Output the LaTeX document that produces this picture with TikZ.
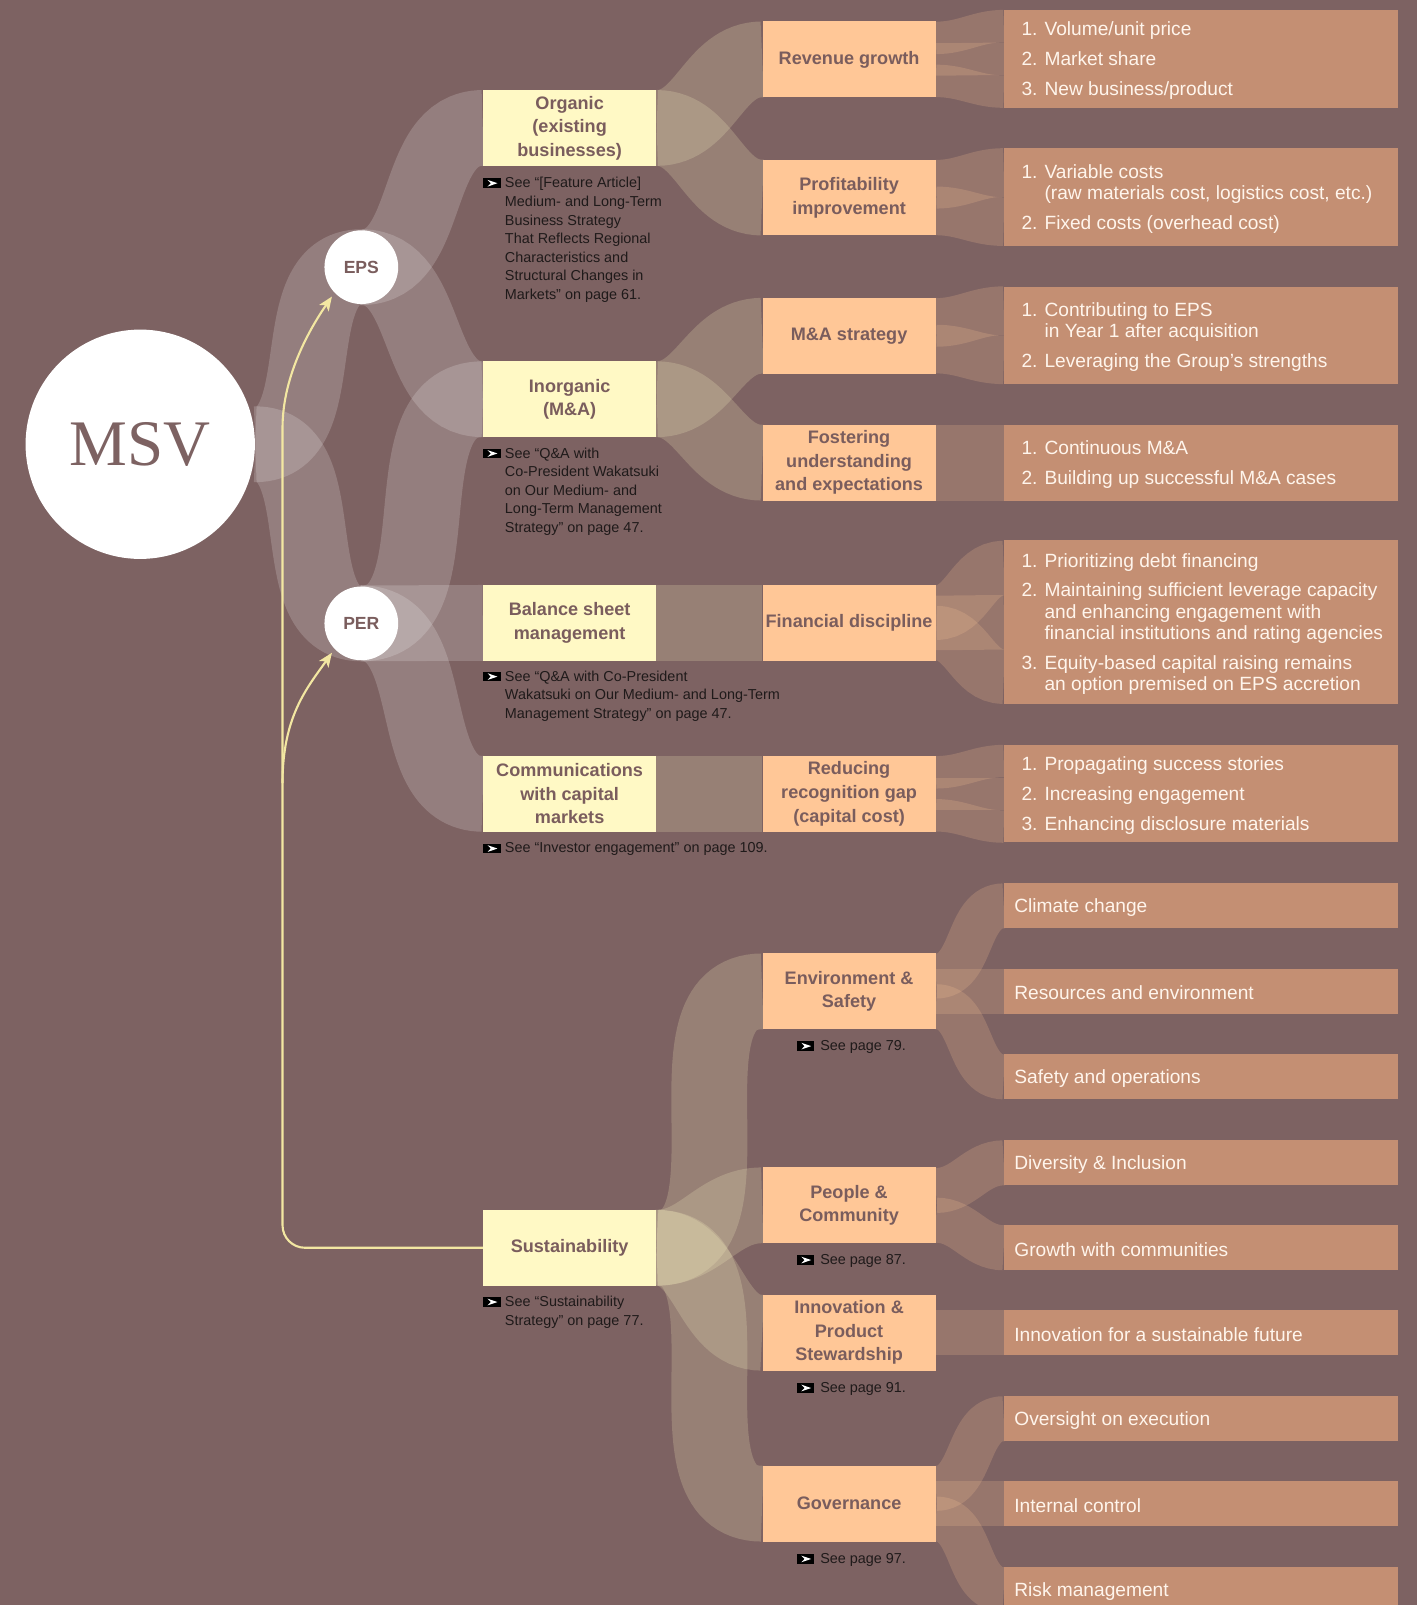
\documentclass[tikz,border=0pt]{standalone}
\usepackage{fontspec}
\setsansfont{Liberation Sans}
\newfontfamily\msvfont{Liberation Serif}
\usetikzlibrary{positioning}
\usetikzlibrary{calc}
\usetikzlibrary{arrows.meta}
\definecolor{bgmauve}{HTML}{7D6262}
\definecolor{labelmauve}{HTML}{7A5D5D}
\definecolor{boxyellow}{HTML}{FFF9C5}
\definecolor{boxpeach}{HTML}{FFC797}
\definecolor{boxtan}{HTML}{C48F73}
\definecolor{itemwhite}{HTML}{FFF5EC}
\definecolor{notedark}{HTML}{1F1A1A}
\definecolor{feedyellow}{HTML}{F3E7A2}
\newcommand{\boxfont}{\sffamily\bfseries\fontsize{10.3}{13.4}\selectfont}
\newcommand{\itemfont}{\sffamily\fontsize{10.9}{12.2}\selectfont}
\newcommand{\notefont}{\sffamily\fontsize{8.2}{10.6}\selectfont}
\pgfdeclarelayer{back}
\pgfdeclarelayer{bands}
\pgfsetlayers{back,bands,main}
\tikzset{
% Boxes of the three columns
yellow box/.style={rectangle,fill=boxyellow,minimum width=3.461cm,minimum height=1.516cm,inner sep=0,align=center,font=\boxfont,text=labelmauve},
peach box/.style={yellow box,fill=boxpeach},
item box/.style={rectangle,fill=boxtan,minimum width=7.885cm,minimum height=#1,inner sep=0},
item text/.style={inner sep=0,align=left,font=\itemfont,text=itemwhite,yshift=-1pt},
% Bands between the columns
flow/.style={draw=white,draw opacity=0.18,line width=#1},
flow/.default=1.516cm,
yflow/.style={draw=boxyellow,draw opacity=0.2,line width=#1},
yflow/.default=1.516cm,
pflow/.style={draw=boxpeach,draw opacity=0.2,line width=#1}
}

\begin{document}
\begin{tikzpicture}[x=0.02048cm,y=-0.02048cm]
		% Node styles for circles and the page notes
		\tikzstyle{msv node}=[circle,fill=white,minimum size=4.588cm,inner sep=0,text=bgmauve,font=\msvfont\fontsize{37}{40}\selectfont];
		\tikzstyle{ratio node}=[circle,fill=white,minimum size=1.475cm,inner sep=0,text=labelmauve,font=\sffamily\bfseries\fontsize{10}{12}\selectfont];
		\tikzstyle{see icon}=[rectangle,fill=black,minimum width=10pt,minimum height=5.4pt,inner sep=0,
			path picture={\fill[white] ([xshift=2.6pt,yshift=0.8pt]path picture bounding box.south west)
				-- ([xshift=-1.8pt]path picture bounding box.east)
				-- ([xshift=2.6pt,yshift=-0.8pt]path picture bounding box.north west)
				-- ([xshift=4.4pt]path picture bounding box.west) -- cycle;}];
		\tikzstyle{see text}=[inner sep=0,align=left,anchor=north west,font=\notefont,text=notedark];
		\tikzstyle{feed}=[draw=feedyellow,line width=1.2pt,-{Stealth[length=8pt,width=6.5pt,inset=2pt]}];
		\useasboundingbox (0,0) rectangle (1384,1568);
		\begin{pgfonlayer}{back}
			\fill[bgmauve] (0,0) rectangle (1384,1568);
		\end{pgfonlayer}
		% Circles
		\node[msv node] (msv) at (137,434) {MSV};
		\node[ratio node] (eps) at (353,261) {EPS};
		\node[ratio node] (per) at (353,609) {PER};
		% Yellow column
		\node[yellow box] (org) at (556.5,125) {Organic\\(existing\\businesses)};
		\node[yellow box] (inorg) at (556.5,390) {Inorganic\\(M\&A)};
		\node[yellow box] (bal) at (556.5,608.5) {Balance sheet\\management};
		\node[yellow box] (comm) at (556.5,775.5) {Communications\\with capital\\markets};
		\node[yellow box] (sust) at (556.5,1219) {Sustainability};
		% Peach column
		\node[peach box] (rev) at (829.5,58) {Revenue growth};
		\node[peach box] (prof) at (829.5,193) {Profitability\\improvement};
		\node[peach box] (ma) at (829.5,328) {M\&A strategy};
		\node[peach box] (fost) at (829.5,452) {Fostering\\understanding\\and expectations};
		\node[peach box] (fin) at (829.5,608.5) {Financial discipline};
		\node[peach box] (red) at (829.5,775.5) {Reducing\\recognition gap\\(capital cost)};
		\node[peach box] (env) at (829.5,968.5) {Environment \&\\Safety};
		\node[peach box] (ppl) at (829.5,1177.5) {People \&\\Community};
		\node[peach box] (inno) at (829.5,1302) {Innovation \&\\Product\\Stewardship};
		\node[peach box] (gov) at (829.5,1469) {Governance};
		% Item boxes
		\node[item box=1.946cm] (r1) at (1173.5,57.5) {};
		\node[item text,right=0.348cm of r1.west] (r1t) {1. Volume/unit price\\[4.7pt]2. Market share\\[4.7pt]3. New business/product};
		\node[item box=1.946cm] (r2) at (1173.5,192.5) {};
		\node[item text,right=0.348cm of r2.west] (r2t) {1. Variable costs\\\phantom{1. }(raw materials cost, logistics cost, etc.)\\[4.7pt]2. Fixed costs (overhead cost)};
		\node[item box=1.946cm] (r3) at (1173.5,327.5) {};
		\node[item text,right=0.348cm of r3.west] (r3t) {1. Contributing to EPS\\\phantom{1. }in Year 1 after acquisition\\[4.7pt]2. Leveraging the Group’s strengths};
		\node[item box=1.516cm] (r4) at (1173.5,452) {};
		\node[item text,right=0.348cm of r4.west] (r4t) {1. Continuous M\&A\\[4.7pt]2. Building up successful M\&A cases};
		\node[item box=3.277cm] (r5) at (1173.5,608) {};
		\node[item text,right=0.348cm of r5.west] (r5t) {1. Prioritizing debt financing\\[4.7pt]2. Maintaining sufficient leverage capacity\\\phantom{2. }and enhancing engagement with\\\phantom{2. }financial institutions and rating agencies\\[4.7pt]3. Equity-based capital raising remains\\\phantom{3. }an option premised on EPS accretion};
		\node[item box=1.946cm] (r6) at (1173.5,775.5) {};
		\node[item text,right=0.348cm of r6.west] (r6t) {1. Propagating success stories\\[4.7pt]2. Increasing engagement\\[4.7pt]3. Enhancing disclosure materials};
		\node[item box=0.901cm] (s1) at (1173.5,885) {};
		\node[item text,right=0.205cm of s1.west] (s1t) {Climate change};
		\node[item box=0.901cm] (s2) at (1173.5,968.5) {};
		\node[item text,right=0.205cm of s2.west] (s2t) {Resources and environment};
		\node[item box=0.901cm] (s3) at (1173.5,1052) {};
		\node[item text,right=0.205cm of s3.west] (s3t) {Safety and operations};
		\node[item box=0.901cm] (s4) at (1173.5,1136) {};
		\node[item text,right=0.205cm of s4.west] (s4t) {Diversity \& Inclusion};
		\node[item box=0.901cm] (s5) at (1173.5,1219) {};
		\node[item text,right=0.205cm of s5.west] (s5t) {Growth with communities};
		\node[item box=0.901cm] (s6) at (1173.5,1302) {};
		\node[item text,right=0.205cm of s6.west] (s6t) {Innovation for a sustainable future};
		\node[item box=0.901cm] (s7) at (1173.5,1386) {};
		\node[item text,right=0.205cm of s7.west] (s7t) {Oversight on execution};
		\node[item box=0.901cm] (s8) at (1173.5,1469) {};
		\node[item text,right=0.205cm of s8.west] (s8t) {Internal control};
		\node[item box=0.901cm] (s9) at (1173.5,1553) {};
		\node[item text,right=0.205cm of s9.west] (s9t) {Risk management};
		% Page notes
		\node[see icon] (i1) at (480.5,179) {};
		\node[see text] (n1) at (493,173) {See “[Feature Article]\\Medium- and Long-Term\\Business Strategy\\That Reflects Regional\\Characteristics and\\Structural Changes in\\Markets” on page 61.};
		\node[see icon] (i2) at (480.5,443) {};
		\node[see text] (n2) at (493,437) {See “Q\&A with\\Co-President Wakatsuki\\on Our Medium- and\\Long-Term Management\\Strategy” on page 47.};
		\node[see icon] (i3) at (480.5,661) {};
		\node[see text] (n3) at (493,655) {See “Q\&A with Co-President\\Wakatsuki on Our Medium- and Long-Term\\Management Strategy” on page 47.};
		\node[see icon] (i4) at (480.5,829) {};
		\node[see text] (n4) at (493,823) {See “Investor engagement” on page 109.};
		\node[see icon] (i5) at (480.5,1272) {};
		\node[see text] (n5) at (493,1266) {See “Sustainability\\Strategy” on page 77.};
		\node[see icon] (i6) at (787,1022) {};
		\node[see text] (n6) at (801,1016) {See page 79.};
		\node[see icon] (i7) at (787,1231) {};
		\node[see text] (n7) at (801,1225) {See page 87.};
		\node[see icon] (i8) at (787,1356) {};
		\node[see text] (n8) at (801,1350) {See page 91.};
		\node[see icon] (i9) at (787,1523) {};
		\node[see text] (n9) at (801,1517) {See page 97.};
		% Bands, behind the boxes
		\begin{pgfonlayer}{bands}
			\draw[flow] (msv.east) to[out=0,in=180] (eps.center);
			\draw[flow] (msv.east) to[out=0,in=180] (per.center);
			\draw[flow] (eps.center) to[out=0,in=180] (org.west);
			\draw[flow] (eps.center) to[out=0,in=180] (inorg.west);
			\draw[flow] (per.center) to[out=0,in=180] (inorg.west);
			\draw[flow] (per.center) -- (bal.west);
			\draw[flow] (per.center) to[out=0,in=180] (comm.west);
			\draw[yflow] (org.east) to[out=0,in=180] (rev.west);
			\draw[yflow] (org.east) to[out=0,in=180] (prof.west);
			\draw[yflow] (inorg.east) to[out=0,in=180] (ma.west);
			\draw[yflow] (inorg.east) to[out=0,in=180] (fost.west);
			\draw[yflow] (bal.east) -- (fin.west);
			\draw[yflow] (comm.east) -- (red.west);
			\foreach \t in {env,ppl,inno,gov}
				\draw[yflow] (sust.east) to[out=0,in=180] (\t.west);
			% fans into the item boxes
			\foreach \a/\b in {-21/-32,0/0,21/32}{
				\draw[pflow=0.649cm] ($(rev.east)+(0,\a)$) to[out=0,in=180] ($(r1.west)+(0,\b)$);
				\draw[pflow=0.649cm] ($(red.east)+(0,\a)$) to[out=0,in=180] ($(r6.west)+(0,\b)$);
			}
			\foreach \a/\b in {-13/-24,13/24}{
				\draw[pflow=0.973cm] ($(prof.east)+(0,\a)$) to[out=0,in=180] ($(r2.west)+(0,\b)$);
				\draw[pflow=0.973cm] ($(ma.east)+(0,\a)$) to[out=0,in=180] ($(r3.west)+(0,\b)$);
			}
			\foreach \a in {-18.5,18.5}
				\draw[pflow=0.758cm] ($(fost.east)+(0,\a)$) -- ($(r4.west)+(0,\a)$);
			\foreach \a/\b in {-10/-53,0/0,10/53}
				\draw[pflow=1.092cm] ($(fin.east)+(0,\a)$) to[out=0,in=180] ($(r5.west)+(0,\b)$);
			\foreach \a/\t in {-15/s1,0/s2,15/s3}
				\draw[pflow=0.901cm] ($(env.east)+(0,\a)$) to[out=0,in=180] (\t.west);
			\foreach \a/\t in {-14.5/s4,14.5/s5}
				\draw[pflow=0.901cm] ($(ppl.east)+(0,\a)$) to[out=0,in=180] (\t.west);
			\draw[pflow=0.901cm] (inno.east) -- (s6.west);
			\foreach \a/\t in {-15/s7,0/s8,15/s9}
				\draw[pflow=0.901cm] ($(gov.east)+(0,\a)$) to[out=0,in=180] (\t.west);
		\end{pgfonlayer}
		% Feedback from Sustainability to EPS and PER
		\coordinate (bend) at (276,440);
		\coordinate (fork) at (276,765);
		\draw[feed,rounded corners=0.45cm] (sust.west) -| (bend) .. controls (276,370) and (300,325) .. ($(eps.225)+(-3,3)$);
		\draw[feed] (fork) .. controls (276,700) and (300,672) .. ($(per.225)+(-3,3)$);
	\end{tikzpicture}
\end{document}
